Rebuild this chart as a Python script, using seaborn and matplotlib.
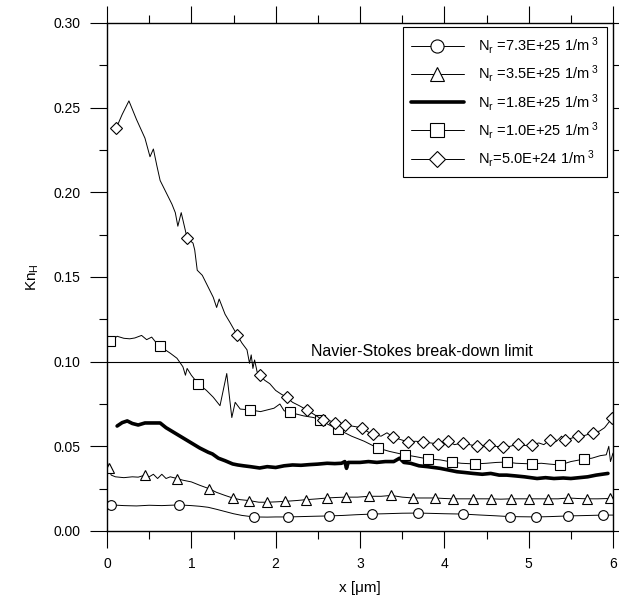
import matplotlib
matplotlib.use("Agg")
import matplotlib.pyplot as plt
from matplotlib.ticker import MultipleLocator, FormatStrFormatter
import seaborn as sns

# Knudsen number along the channel for five rarefaction densities
x_73e25 = [0.0, 0.05, 0.2, 0.35, 0.5, 0.65, 0.85, 1.0, 1.1, 1.2, 1.3, 1.4, 1.5, 1.6,
           1.74, 1.9, 2.0, 2.15, 2.3, 2.45, 2.63, 2.8, 2.95, 3.14, 3.3, 3.5, 3.69,
           3.85, 4.0, 4.22, 4.4, 4.6, 4.78, 4.95, 5.09, 5.25, 5.47, 5.65, 5.88, 6.0]
kn_73e25 = [0.016, 0.0154, 0.015, 0.0148, 0.0152, 0.015, 0.0154, 0.015, 0.0146, 0.014,
            0.0128, 0.0115, 0.0102, 0.0092, 0.0083, 0.0082, 0.0083, 0.0083, 0.0085,
            0.0087, 0.0089, 0.0092, 0.0096, 0.0100, 0.0102, 0.0105, 0.0106, 0.0104,
            0.0102, 0.0100, 0.0095, 0.0090, 0.0085, 0.0084, 0.0083, 0.0085, 0.0089,
            0.0091, 0.0094, 0.0094]
mk_73e25 = [1, 6, 14, 17, 20, 23, 26, 29, 32, 34, 36, 38]

x_35e25 = [0.0, 0.02, 0.05, 0.1, 0.2, 0.3, 0.37, 0.45, 0.5, 0.55, 0.6, 0.65, 0.7, 0.75,
           0.83, 0.9, 1.0, 1.1, 1.21, 1.3, 1.4, 1.49, 1.58, 1.68, 1.8, 1.9, 2.0, 2.11,
           2.25, 2.36, 2.5, 2.61, 2.72, 2.83, 2.97, 3.11, 3.25, 3.37, 3.5, 3.63, 3.76,
           3.89, 4.0, 4.10, 4.22, 4.34, 4.45, 4.55, 4.67, 4.79, 4.9, 5.0, 5.12, 5.23,
           5.35, 5.47, 5.58, 5.69, 5.82, 5.96, 6.0]
kn_35e25 = [0.042, 0.037, 0.033, 0.032, 0.0315, 0.032, 0.0318, 0.033, 0.032, 0.0335,
            0.031, 0.0335, 0.031, 0.032, 0.031, 0.030, 0.029, 0.027, 0.025, 0.0228,
            0.021, 0.0195, 0.0185, 0.018, 0.017, 0.017, 0.0172, 0.0175, 0.018, 0.0185,
            0.019, 0.0195, 0.0198, 0.020, 0.020, 0.0205, 0.0205, 0.021, 0.020, 0.0195,
            0.0195, 0.0195, 0.0192, 0.019, 0.019, 0.019, 0.019, 0.019, 0.0188, 0.019,
            0.019, 0.019, 0.019, 0.019, 0.019, 0.0195, 0.0192, 0.019, 0.019, 0.0192,
            0.0192]
mk_35e25 = [1, 7, 14, 18, 21, 23, 25, 27, 29, 31, 33, 35, 37, 39, 41, 43, 45, 47,
            49, 51, 53, 55, 57, 59]

x_18e25 = [0.12, 0.18, 0.24, 0.3, 0.37, 0.45, 0.55, 0.63, 0.7, 0.8, 0.9, 1.0, 1.1, 1.2,
           1.25, 1.32, 1.4, 1.49, 1.55, 1.62, 1.7, 1.81, 1.9, 2.0, 2.1, 2.2, 2.3, 2.4,
           2.5, 2.61, 2.7, 2.78, 2.82, 2.84, 2.86, 2.9, 3.0, 3.1, 3.2, 3.3, 3.4, 3.47,
           3.52, 3.6, 3.7, 3.8, 3.95, 4.05, 4.15, 4.25, 4.34, 4.45, 4.55, 4.65, 4.74,
           4.85, 4.95, 5.1, 5.2, 5.3, 5.41, 5.5, 5.6, 5.7, 5.8, 5.94]
kn_18e25 = [0.062, 0.064, 0.065, 0.0635, 0.0626, 0.0638, 0.0638, 0.0638, 0.061, 0.058,
            0.055, 0.052, 0.049, 0.0465, 0.0455, 0.043, 0.0415, 0.0396, 0.039, 0.0385,
            0.038, 0.0372, 0.038, 0.0375, 0.0385, 0.039, 0.0388, 0.0392, 0.0395, 0.040,
            0.0398, 0.040, 0.041, 0.037, 0.0405, 0.0405, 0.0405, 0.041, 0.0405, 0.041,
            0.041, 0.043, 0.0405, 0.040, 0.0385, 0.038, 0.037, 0.036, 0.035, 0.0345,
            0.034, 0.0335, 0.034, 0.033, 0.033, 0.0325, 0.032, 0.031, 0.0315, 0.031,
            0.0313, 0.031, 0.0315, 0.032, 0.033, 0.034]

x_10e25 = [0.0, 0.04, 0.12, 0.2, 0.27, 0.33, 0.41, 0.47, 0.53, 0.57, 0.63, 0.75, 0.83,
           0.9, 0.93, 0.95, 1.0, 1.08, 1.18, 1.26, 1.34, 1.42, 1.48, 1.52, 1.58, 1.7,
           1.82, 1.98, 2.05, 2.1, 2.17, 2.33, 2.45, 2.53, 2.62, 2.74, 2.9, 3.05, 3.21,
           3.35, 3.53, 3.65, 3.81, 3.95, 4.09, 4.2, 4.36, 4.5, 4.62, 4.74, 4.85, 4.95,
           5.04, 5.15, 5.25, 5.37, 5.5, 5.66, 5.75, 5.85, 5.92, 5.95, 5.97, 6.0]
kn_10e25 = [0.111, 0.112, 0.115, 0.1138, 0.1135, 0.114, 0.1155, 0.113, 0.1145, 0.112,
            0.109, 0.105, 0.102, 0.097, 0.092, 0.096, 0.092, 0.087, 0.083, 0.079,
            0.074, 0.093, 0.067, 0.076, 0.072, 0.0715, 0.0705, 0.0725, 0.075, 0.071,
            0.070, 0.068, 0.067, 0.0655, 0.063, 0.060, 0.056, 0.053, 0.049, 0.047,
            0.045, 0.044, 0.0425, 0.042, 0.0407, 0.040, 0.0396, 0.040, 0.0405, 0.0407,
            0.040, 0.0398, 0.0396, 0.040, 0.0395, 0.039, 0.041, 0.0425, 0.043, 0.0445,
            0.045, 0.050, 0.041, 0.046]
mk_10e25 = [1, 10, 17, 25, 30, 33, 35, 38, 40, 42, 44, 46, 49, 52, 55, 57]

x_50e24 = [0.11, 0.18, 0.26, 0.35, 0.45, 0.51, 0.55, 0.59, 0.63, 0.7, 0.77, 0.81, 0.84,
           0.88, 0.95, 1.02, 1.04, 1.07, 1.13, 1.2, 1.26, 1.30, 1.33, 1.4, 1.46, 1.54,
           1.6, 1.66, 1.69, 1.71, 1.73, 1.75, 1.78, 1.81, 1.87, 1.93, 2.0, 2.06, 2.13,
           2.2, 2.28, 2.37, 2.45, 2.56, 2.65, 2.70, 2.76, 2.82, 2.9, 3.02, 3.08, 3.15,
           3.25, 3.32, 3.39, 3.48, 3.57, 3.66, 3.75, 3.84, 3.92, 3.98, 4.04, 4.12, 4.22,
           4.3, 4.39, 4.46, 4.53, 4.61, 4.70, 4.78, 4.87, 4.95, 5.04, 5.12, 5.18, 5.25,
           5.33, 5.39, 5.43, 5.52, 5.59, 5.67, 5.76, 5.84, 5.9, 5.99]
kn_50e24 = [0.238, 0.246, 0.254, 0.243, 0.232, 0.221, 0.2256, 0.216, 0.207, 0.200,
            0.193, 0.188, 0.180, 0.188, 0.173, 0.170, 0.166, 0.154, 0.151, 0.144,
            0.138, 0.132, 0.137, 0.128, 0.123, 0.116, 0.111, 0.107, 0.099, 0.104,
            0.096, 0.101, 0.094, 0.092, 0.089, 0.087, 0.083, 0.081, 0.079, 0.076,
            0.074, 0.0715, 0.069, 0.0655, 0.065, 0.064, 0.0635, 0.0626, 0.062, 0.061,
            0.059, 0.057, 0.056, 0.058, 0.0555, 0.054, 0.0526, 0.053, 0.0526, 0.052,
            0.0514, 0.052, 0.053, 0.051, 0.052, 0.051, 0.050, 0.0505, 0.0508, 0.050,
            0.0496, 0.050, 0.0514, 0.0505, 0.0508, 0.052, 0.051, 0.0537, 0.053, 0.056,
            0.0537, 0.055, 0.056, 0.0565, 0.058, 0.059, 0.061, 0.0667]
mk_50e24 = [0, 14, 25, 33, 38, 41, 43, 45, 47, 49, 51, 54, 56, 58, 60, 62, 64, 66,
            68, 70, 72, 74, 77, 80, 82, 84, 87]

labels = [r"N$_r$ =7.3E+25 1/m$^{\ 3}$", r"N$_r$ =3.5E+25 1/m$^{\ 3}$",
          r"N$_r$ =1.8E+25 1/m$^{\ 3}$", r"N$_r$ =1.0E+25 1/m$^{\ 3}$",
          r"N$_r$=5.0E+24 1/m$^{\ 3}$"]

NS_LIMIT = 0.10
NS_TEXT = "Navier-Stokes break-down limit"

sns.set_theme(style="ticks")
plt.rcParams["font.family"] = ["Liberation Sans", "DejaVu Sans"]
plt.rcParams["mathtext.fontset"] = "custom"
plt.rcParams["mathtext.rm"] = "Liberation Sans"
plt.rcParams["mathtext.it"] = "Liberation Sans"
plt.rcParams["mathtext.default"] = "regular"

fig = plt.figure(figsize=(6.19, 5.98), dpi=100)
ax = fig.add_axes([107 / 619, 1 - 531 / 598, 506 / 619, 508 / 598])

thin = dict(color="black", linewidth=0.7, markerfacecolor="white",
            markeredgecolor="black", markeredgewidth=0.8, sort=False,
            estimator=None, errorbar=None, ax=ax)

sns.lineplot(x=x_73e25, y=kn_73e25, marker="o", markersize=7, markevery=mk_73e25,
             label=labels[0], **thin)
sns.lineplot(x=x_35e25, y=kn_35e25, marker="^", markersize=7, markevery=mk_35e25,
             label=labels[1], **thin)
sns.lineplot(x=x_18e25, y=kn_18e25, color="black", linewidth=2.6, sort=False,
             estimator=None, errorbar=None, ax=ax, label=labels[2])
sns.lineplot(x=x_10e25, y=kn_10e25, marker="s", markersize=7, markevery=mk_10e25,
             label=labels[3], **thin)
sns.lineplot(x=x_50e24, y=kn_50e24, marker="D", markersize=6, markevery=mk_50e24,
             label=labels[4], **thin)

ax.axhline(NS_LIMIT, color="black", linewidth=0.8, zorder=1)
ax.text(3.73, NS_LIMIT + 0.0015, NS_TEXT, ha="center", va="bottom", fontsize=11.5,
        color="black")

ax.set_xlim(0, 6)
ax.set_ylim(0, 0.30)
ax.xaxis.set_major_locator(MultipleLocator(1))
ax.xaxis.set_minor_locator(MultipleLocator(0.5))
ax.yaxis.set_major_locator(MultipleLocator(0.05))
ax.yaxis.set_minor_locator(MultipleLocator(0.025))
ax.yaxis.set_major_formatter(FormatStrFormatter("%.2f"))

ax.tick_params(which="both", direction="out", top=True, right=True,
               color="black", width=0.8, labelsize=10, labelcolor="black")
ax.tick_params(which="major", length=12, pad=7)
ax.tick_params(which="minor", length=6)
for side in ax.spines.values():
    side.set_color("black")
    side.set_linewidth(1.0)

ax.set_xlabel("x [μm]", fontsize=11, labelpad=7, color="black")
ax.set_ylabel(r"Kn$_H$", fontsize=11, labelpad=9, color="black")

leg = ax.legend(loc="upper right", bbox_to_anchor=(0.988, 0.992), borderaxespad=0,
                fontsize=10.5, handlelength=3.6, handletextpad=1.0, borderpad=0.55,
                labelspacing=0.5, markerscale=1.35, fancybox=False, framealpha=1,
                edgecolor="black")
leg.get_frame().set_linewidth(0.8)
for t in leg.get_texts():
    t.set_color("black")

fig.savefig("out.png", dpi=100)
